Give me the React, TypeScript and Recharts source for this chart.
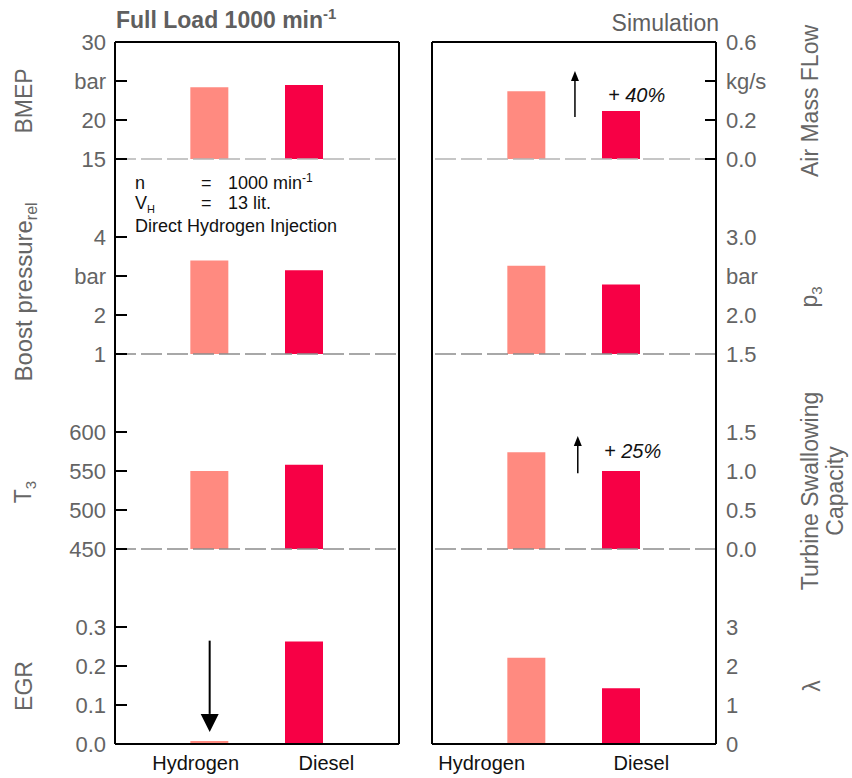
import { Bar, BarChart, Cell, ReferenceLine, XAxis, YAxis } from 'recharts'

const fuels = ['Hydrogen', 'Diesel']

// measured engine (left column)
const bmep = [24.2, 24.5]
const boostPressure = [3.4, 3.15]
const t3 = [550, 558]
const egr = [0.008, 0.263]

// simulation (right column)
const airMassFlow = [0.347, 0.246]
const p3 = [2.63, 2.39]
const swallowing = [1.24, 1.0]
const lambda = [2.21, 1.43]

const bmepTicks = [15, 20, 25, 30]
const boostTicks = [1, 2, 3, 4]
const t3Ticks = [450, 500, 550, 600]
const egrTicks = [0, 0.1, 0.2, 0.3]
const airTicks = [0, 0.2, 0.4, 0.6]
const p3Ticks = [1.5, 2, 2.5, 3]
const swallowTicks = [0, 0.5, 1, 1.5]
const lambdaTicks = [0, 1, 2, 3]

const COLORS = ['#ff8a80', '#f70045']
const FONT = '"Liberation Sans", Arial, sans-serif'
const ROW_TOP = [42, 159, 354, 549]
const ROW_H = [117, 195, 195, 195]
const PAD = 15
const BOTTOM = 45

type Arrow = { x: number; from: number; to: number; head: number; headLen: number; width: number }
type RowCfg = {
    values: number[]
    domain: [number, number]
    ticks: number[]
    digits: number
    unit?: { at: number; text: string }
    inward: boolean
    arrow?: Arrow
}

const leftRows: RowCfg[] = [
    { values: bmep, domain: [15, 30], ticks: bmepTicks, digits: 0, unit: { at: 25, text: 'bar' }, inward: true },
    { values: boostPressure, domain: [1, 6], ticks: boostTicks, digits: 0, unit: { at: 3, text: 'bar' }, inward: true },
    { values: t3, domain: [450, 700], ticks: t3Ticks, digits: 0, inward: true },
    {
        values: egr, domain: [0, 0.5], ticks: egrTicks, digits: 1, inward: true,
        arrow: { x: 1, from: 0.265, to: 0.031, head: 18, headLen: 18, width: 2 },
    },
]

const rightRows: RowCfg[] = [
    {
        values: airMassFlow, domain: [0, 0.6], ticks: airTicks, digits: 1, unit: { at: 0.4, text: 'kg/s' }, inward: true,
        arrow: { x: 1.51, from: 0.215, to: 0.451, head: 8, headLen: 10, width: 1.5 },
    },
    { values: p3, domain: [1.5, 4], ticks: p3Ticks, digits: 1, unit: { at: 2.5, text: 'bar' }, inward: false },
    {
        values: swallowing, domain: [0, 2.5], ticks: swallowTicks, digits: 1, inward: false,
        arrow: { x: 1.54, from: 0.97, to: 1.45, head: 8, headLen: 10, width: 1.5 },
    },
    { values: lambda, domain: [0, 5], ticks: lambdaTicks, digits: 0, inward: false },
]

// x label offsets from the bar centre, the original labels are not centred
const labelShift = { left: [-14, 22], right: [-45, 20] }

const arrowShape = (a: Arrow) => (p: any) => {
    const x = p.x1
    const tip = a.to > a.from ? Math.min(p.y1, p.y2) : Math.max(p.y1, p.y2)
    const tail = a.to > a.from ? Math.max(p.y1, p.y2) : Math.min(p.y1, p.y2)
    const dir = tip < tail ? 1 : -1
    const base = tip + dir * a.headLen
    return (
        <g>
            <line x1={x} x2={x} y1={tail} y2={base} stroke="#000" strokeWidth={a.width} />
            <polygon points={`${x - a.head / 2},${base} ${x + a.head / 2},${base} ${x},${tip}`} fill="#000" />
        </g>
    )
}

const Row = ({ side, idx, cfg }: { side: 'left' | 'right'; idx: number; cfg: RowCfg }) => {
    const isLeft = side === 'left'
    const h = ROW_H[idx]
    const last = idx === 3
    const data = fuels.map((fuel, i) => ({ fuel, pos: i + 1, value: cfg.values[i] }))
    const axisX = isLeft ? 115 : 296
    const fmt = (v: number) => (cfg.unit && v === cfg.unit.at ? cfg.unit.text : v.toFixed(cfg.digits))

    const renderYTick = (p: any) => (
        <g>
            {cfg.inward && (
                <line x1={axisX} x2={isLeft ? axisX + 12 : axisX - 11} y1={p.y} y2={p.y} stroke="#000" strokeWidth={2} />
            )}
            <text
                x={isLeft ? axisX - 9 : axisX + 10}
                y={p.y + 8}
                textAnchor={isLeft ? 'end' : 'start'}
                fontSize={22}
                fontFamily={FONT}
                fill="#646464"
            >
                {fmt(p.payload.value)}
            </text>
        </g>
    )

    const renderXTick = (p: any) => {
        const i = p.payload.value - 1
        return (
            <text x={p.x + labelShift[side][i]} y={PAD + h + 26} textAnchor="middle" fontSize={20} fontFamily={FONT} fill="#111">
                {fuels[i]}
            </text>
        )
    }

    return (
        <div style={{ position: 'absolute', left: isLeft ? 0 : 420, top: ROW_TOP[idx] - PAD }}>
            <BarChart
                width={isLeft ? 420 : 432}
                height={h + PAD + (last ? BOTTOM : PAD)}
                data={data}
                margin={{ top: PAD, bottom: last ? 0 : PAD, left: isLeft ? 0 : 12, right: isLeft ? 21 : 0 }}
            >
                <XAxis
                    type="number"
                    dataKey="pos"
                    domain={[0, 3]}
                    ticks={[1, 2]}
                    interval={0}
                    hide={!last}
                    height={BOTTOM}
                    axisLine={{ stroke: '#000', strokeWidth: 2 }}
                    tickLine={false}
                    tick={renderXTick}
                />
                <YAxis
                    type="number"
                    orientation={isLeft ? 'left' : 'right'}
                    width={isLeft ? 115 : 136}
                    domain={cfg.domain}
                    ticks={cfg.ticks}
                    interval={0}
                    allowDataOverflow
                    axisLine={{ stroke: '#000', strokeWidth: 2 }}
                    tickLine={false}
                    tick={renderYTick}
                />
                <Bar dataKey="value" barSize={38} isAnimationActive={false}>
                    {data.map((d, i) => (
                        <Cell key={d.fuel} fill={COLORS[i]} />
                    ))}
                </Bar>
                {!last && (
                    <ReferenceLine
                        y={cfg.domain[0]}
                        stroke={idx === 0 ? '#b4b4b4' : '#8c8c8c'}
                        strokeWidth={1.5}
                        strokeDasharray="21 5"
                    />
                )}
                {idx === 0 && <ReferenceLine y={cfg.domain[1]} stroke="#000" strokeWidth={2} />}
                <ReferenceLine x={isLeft ? 3 : 0} stroke="#000" strokeWidth={2} />
                {cfg.arrow && (
                    <ReferenceLine
                        segment={[{ x: cfg.arrow.x, y: cfg.arrow.from }, { x: cfg.arrow.x, y: cfg.arrow.to }]}
                        shape={arrowShape(cfg.arrow)}
                    />
                )}
            </BarChart>
        </div>
    )
}

const Vertical = ({ x, y, size = 23, children }: { x: number; y: number; size?: number; children: any }) => (
    <text transform={`translate(${x},${y}) rotate(-90)`} textAnchor="middle" fontSize={size} fill="#666">
        {children}
    </text>
)

export default function App() {
    return (
        <div style={{ position: 'absolute', left: 0, top: 0, width: 852, height: 778, background: '#fff', fontFamily: FONT }}>
            {leftRows.map((cfg, i) => (
                <Row key={'l' + i} side="left" idx={i} cfg={cfg} />
            ))}
            {rightRows.map((cfg, i) => (
                <Row key={'r' + i} side="right" idx={i} cfg={cfg} />
            ))}
            <svg width={852} height={778} style={{ position: 'absolute', left: 0, top: 0, pointerEvents: 'none' }} fontFamily={FONT}>
                <text x={116} y={28} fontSize={23} fontWeight="bold" fill="#5f5f5f">
                    Full Load 1000 min<tspan fontSize={15} dy={-9}>-1</tspan>
                </text>
                <text x={719} y={31} fontSize={23} textAnchor="end" fill="#5f5f5f">Simulation</text>

                <Vertical x={32} y={101}>BMEP</Vertical>
                <Vertical x={32} y={292} size={24}>
                    Boost pressure<tspan fontSize={16} dy={5}>rel</tspan>
                </Vertical>
                <Vertical x={31} y={492}>
                    T<tspan fontSize={15} dy={5}>3</tspan>
                </Vertical>
                <Vertical x={32} y={686}>EGR</Vertical>

                <Vertical x={818} y={101}>Air Mass FLow</Vertical>
                <Vertical x={817} y={297}>
                    p<tspan fontSize={15} dy={5}>3</tspan>
                </Vertical>
                <Vertical x={818} y={491}>Turbine Swallowing</Vertical>
                <Vertical x={843} y={491}>Capacity</Vertical>
                <Vertical x={820} y={686}>λ</Vertical>

                <g fontSize={18} fill="#111">
                    <text x={135} y={189}>n</text>
                    <text x={201} y={189}>=</text>
                    <text x={228} y={189}>
                        1000 min<tspan fontSize={12} dy={-7}>-1</tspan>
                    </text>
                    <text x={135} y={209}>
                        V<tspan fontSize={11} dy={4}>H</tspan>
                    </text>
                    <text x={201} y={209}>=</text>
                    <text x={228} y={209}>13 lit.</text>
                    <text x={135} y={232}>Direct Hydrogen Injection</text>
                </g>
                <text x={608} y={102} fontSize={20} fontStyle="italic" fill="#111">+ 40%</text>
                <text x={604} y={458} fontSize={20} fontStyle="italic" fill="#111">+ 25%</text>
            </svg>
        </div>
    )
}
